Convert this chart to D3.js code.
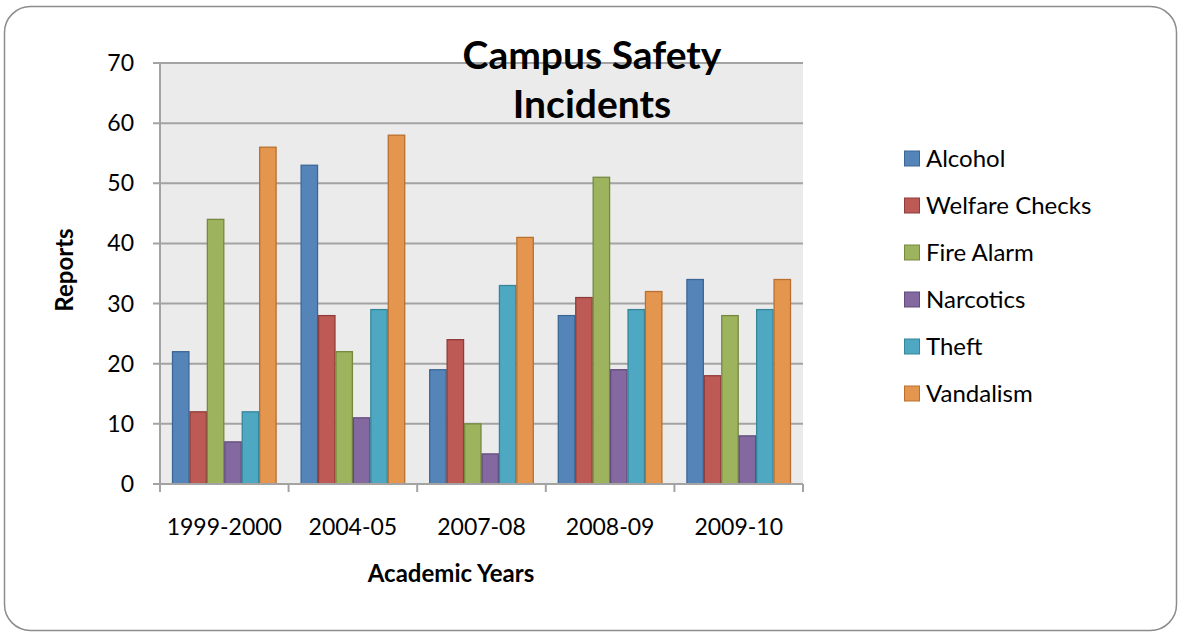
<!DOCTYPE html>
<html>
<head>
<meta charset="utf-8">
<script src="https://cdn.jsdelivr.net/npm/d3@7"></script>
<style>
  body { margin: 0; background: #fff; }
  text { font-family: Lato, "Open Sans", sans-serif; fill: #000; }
</style>
</head>
<body>
<div id="chart"></div>
<script>
const years = ["1999-2000", "2004-05", "2007-08", "2008-09", "2009-10"];
const seriesNames = ["Alcohol", "Welfare Checks", "Fire Alarm", "Narcotics", "Theft", "Vandalism"];
const alcohol   = [22, 53, 19, 28, 34];
const welfare   = [12, 28, 24, 31, 18];
const fireAlarm = [44, 22, 10, 51, 28];
const narcotics = [7, 11, 5, 19, 8];
const theft     = [12, 29, 33, 29, 29];
const vandalism = [56, 58, 41, 32, 34];
const yTicks = [0, 10, 20, 30, 40, 50, 60, 70];

const values = [alcohol, welfare, fireAlarm, narcotics, theft, vandalism];
const fills   = ["#5584b8", "#bd5a55", "#9db35e", "#8468a0", "#4fa8c1", "#e5964e"];
const strokes = ["#3c6795", "#8f3d3a", "#76893f", "#614c7c", "#34869b", "#b9702f"];

const width = 1178, height = 632;
const plot = { left: 160, right: 803, top: 63, bottom: 484 };

const svg = d3.select("#chart").append("svg")
  .attr("width", width)
  .attr("height", height);

// outer frame
svg.append("rect")
  .attr("x", 4.5).attr("y", 6.5)
  .attr("width", 1172).attr("height", 624)
  .attr("rx", 26).attr("ry", 26)
  .attr("fill", "#fff")
  .attr("stroke", "#8c8c8c")
  .attr("stroke-width", 1.5);

const x0 = d3.scaleBand()
  .domain(years)
  .range([plot.left, plot.right])
  .paddingInner(0)
  .paddingOuter(0);

const x1 = d3.scaleBand()
  .domain(seriesNames)
  .range([12, x0.bandwidth() - 12]);

const y = d3.scaleLinear()
  .domain([0, 70])
  .range([plot.bottom, plot.top]);

// plot background
svg.append("rect")
  .attr("x", plot.left).attr("y", plot.top)
  .attr("width", plot.right - plot.left)
  .attr("height", plot.bottom - plot.top)
  .attr("fill", "#ebebeb");

// gridlines + y ticks
svg.append("g")
  .selectAll("line")
  .data(yTicks)
  .join("line")
  .attr("x1", plot.left - 7)
  .attr("x2", plot.right)
  .attr("y1", d => y(d))
  .attr("y2", d => y(d))
  .attr("stroke", "#a3a3a3")
  .attr("stroke-width", 2);

svg.append("g")
  .selectAll("text")
  .data(yTicks)
  .join("text")
  .attr("x", 134)
  .attr("y", d => y(d))
  .attr("dy", "0.35em")
  .attr("text-anchor", "end")
  .attr("font-size", 23)
  .text(d => d);

// bars
const group = svg.append("g")
  .selectAll("g")
  .data(years)
  .join("g")
  .attr("transform", d => `translate(${x0(d)},0)`);

group.selectAll("rect")
  .data((d, i) => seriesNames.map((s, j) => ({ s, j, v: values[j][i] })))
  .join("rect")
  .attr("x", d => x1(d.s) + 0.5)
  .attr("y", d => y(d.v))
  .attr("width", x1.bandwidth() - 1)
  .attr("height", d => y(0) - y(d.v))
  .attr("fill", d => fills[d.j])
  .attr("stroke", d => strokes[d.j])
  .attr("stroke-width", 1.3);

// axes lines
svg.append("line")
  .attr("x1", plot.left).attr("x2", plot.left)
  .attr("y1", plot.top).attr("y2", plot.bottom)
  .attr("stroke", "#a3a3a3").attr("stroke-width", 2);

svg.append("line")
  .attr("x1", plot.left).attr("x2", plot.right)
  .attr("y1", plot.bottom).attr("y2", plot.bottom)
  .attr("stroke", "#a3a3a3").attr("stroke-width", 2);

// x ticks
svg.append("g")
  .selectAll("line")
  .data(years.map(d => x0(d)).concat([plot.right]))
  .join("line")
  .attr("x1", d => d).attr("x2", d => d)
  .attr("y1", plot.bottom).attr("y2", plot.bottom + 8)
  .attr("stroke", "#a3a3a3").attr("stroke-width", 2);

svg.append("g")
  .selectAll("text")
  .data(years)
  .join("text")
  .attr("x", d => x0(d) + x0.bandwidth() / 2)
  .attr("y", 527)
  .attr("dy", "0.35em")
  .attr("text-anchor", "middle")
  .attr("font-size", 23)
  .text(d => d);

// axis titles
svg.append("text")
  .attr("x", 451).attr("y", 574)
  .attr("dy", "0.35em")
  .attr("text-anchor", "middle")
  .attr("font-size", 24)
  .attr("font-weight", "bold")
  .text("Academic Years");

svg.append("text")
  .attr("transform", "translate(65,270) rotate(-90)")
  .attr("dy", "0.35em")
  .attr("text-anchor", "middle")
  .attr("font-size", 24)
  .attr("font-weight", "bold")
  .text("Reports");

// title
const title = svg.append("text")
  .attr("text-anchor", "middle")
  .attr("font-size", 39)
  .attr("font-weight", "bold");
title.append("tspan").attr("x", 592).attr("y", 69).text("Campus Safety");
title.append("tspan").attr("x", 592).attr("y", 118).text("Incidents");

// legend
const legend = svg.append("g")
  .selectAll("g")
  .data(seriesNames)
  .join("g")
  .attr("transform", (d, i) => `translate(904,${158.5 + i * 47})`);

legend.append("rect")
  .attr("x", 0.5).attr("y", -7.5)
  .attr("width", 15).attr("height", 15)
  .attr("fill", (d, i) => fills[i])
  .attr("stroke", (d, i) => strokes[i])
  .attr("stroke-width", 1);

legend.append("text")
  .attr("x", 22)
  .attr("y", 0)
  .attr("dy", "0.35em")
  .attr("font-size", 24)
  .text(d => d);
</script>
</body>
</html>
